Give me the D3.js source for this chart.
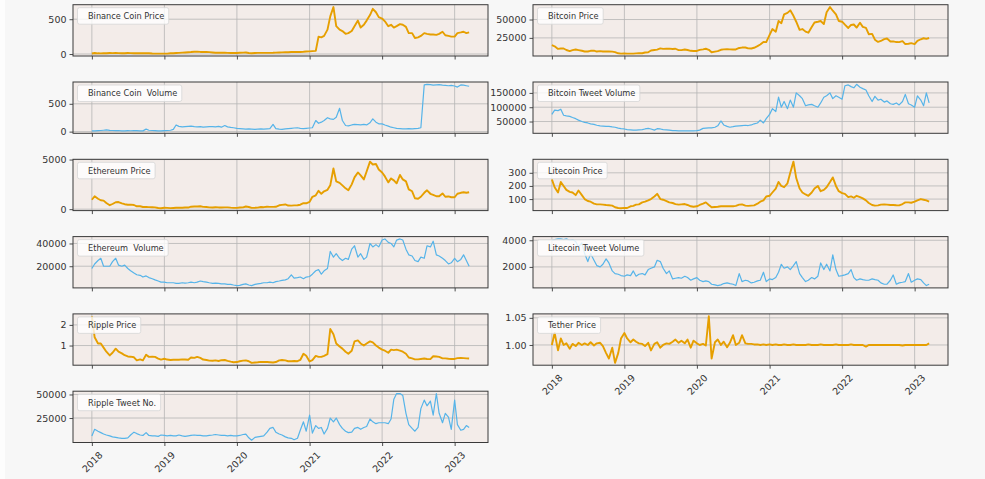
<!DOCTYPE html>
<html>
<head>
<meta charset="utf-8">
<script src="https://cdn.jsdelivr.net/npm/d3@7"></script>
<style>
  body { margin: 0; background: #f7f7f7; }
  svg { display: block; font-family: "DejaVu Sans", sans-serif; }
</style>
</head>
<body>
<svg id="chart" width="985" height="479"></svg>
<script>
// half-monthly samples (1st and 15th), Jan 2018 .. Mar 2023
const dates = d3.utcMonth.range(new Date(Date.UTC(2018, 0, 1)), new Date(Date.UTC(2023, 3, 1)))
  .flatMap(m => [m, d3.utcDay.offset(m, 14)]);
const yearTicks = [2018, 2019, 2020, 2021, 2022, 2023];

const bnbPrice = [
  8, 15, 10, 9, 12, 11, 14, 13, 14, 13, 12, 11, 14, 13, 11, 10, 10, 10, 10, 10, 7, 6, 5, 5,
  6, 6, 10, 12, 15, 17, 20, 22, 25, 28, 33, 35, 30, 28, 28, 27, 22, 18, 18, 20, 19, 17, 14, 14,
  15, 18, 20, 22, 14, 12, 15, 17, 17, 17, 17, 17, 18, 20, 22, 23, 27, 25, 29, 30, 30, 29, 32, 36,
  38, 42, 45, 250, 240, 260, 350, 540, 675, 400, 350, 330, 290, 300, 330, 400, 480, 380, 420, 480, 560, 650, 600, 530,
  510, 470, 400, 420, 380, 400, 430, 420, 390, 300, 300, 230, 240, 260, 300, 290, 280, 280, 275, 290, 320, 270, 260, 250,
  250, 300, 310, 320, 300, 310
];
const bnbVolume = [
  12, 15, 18, 20, 25, 30, 22, 20, 18, 20, 15, 15, 18, 16, 20, 18, 15, 14, 45, 25, 20, 18, 15, 14,
  18, 20, 25, 40, 120, 95, 85, 90, 95, 100, 90, 85, 90, 80, 85, 90, 90, 85, 95, 80, 110, 85, 75, 70,
  60, 55, 50, 45, 50, 45, 40, 45, 50, 45, 50, 55, 130, 55, 45, 40, 50, 55, 60, 65, 70, 60, 55, 60,
  65, 70, 200, 150, 170, 200, 250, 230, 220, 260, 420, 200, 110, 105, 120, 130, 125, 120, 130, 120, 160, 230, 170, 140,
  140, 120, 100, 80, 70, 60, 55, 50, 50, 55, 50, 55, 60, 70, 840, 850, 845, 835, 840, 845, 835, 830, 825, 830,
  820, 800, 840, 835, 825, 815
];
const ethPrice = [
  950, 1300, 1050, 900, 860, 620, 400, 520, 700, 720, 590, 500, 450, 460, 420, 290, 290, 220, 230, 210, 200, 180, 115, 90,
  140, 125, 107, 122, 135, 135, 140, 165, 160, 250, 265, 265, 290, 230, 215, 185, 170, 195, 175, 175, 180, 180, 150, 130,
  130, 165, 180, 265, 220, 125, 135, 155, 215, 200, 245, 230, 230, 240, 390, 430, 475, 365, 360, 380, 395, 450, 600, 590,
  730, 1250, 1400, 1850, 1550, 1800, 1950, 2400, 4100, 2800, 2650, 2400, 2100, 1900, 2500, 3200, 3700, 3400, 3000, 3800, 4790, 4500, 4550, 4000,
  3700, 3300, 2700, 3100, 2900, 2600, 3450, 3000, 2800, 2000, 1800, 1100, 1050, 1250, 1650, 1900, 1550, 1450, 1300, 1300, 1580, 1250, 1280, 1200,
  1200, 1550, 1650, 1700, 1650, 1700
];
const ethVolume = [
  18000, 22000, 25000, 27000, 20000, 20000, 20000, 24000, 27000, 21000, 20000, 21000, 18000, 16000, 14000, 12500, 12000, 10500, 11500, 10000, 9000, 8000, 7000, 6000,
  6000, 5500, 5500, 5500, 5000, 5000, 5500, 5200, 5500, 6000, 5500, 6000, 7000, 6500, 6000, 5500, 5000, 5200, 5000, 4500, 4500, 4000, 4000, 3500,
  3000, 3200, 4000, 4500, 3500, 3000, 4000, 4500, 5000, 5500, 5500, 6000, 5500, 6500, 7000, 7500, 8000, 9000, 12500, 9500, 10000, 10500, 9000, 10500,
  11000, 13000, 16000, 17000, 13000, 16000, 18000, 33000, 28000, 31000, 27000, 25000, 27000, 26000, 35000, 38000, 28000, 31000, 26000, 28000, 40000, 37000, 39000, 37000,
  43000, 44000, 41000, 40000, 37000, 43000, 44000, 43000, 35000, 30000, 29000, 25000, 24000, 28000, 27000, 38000, 37000, 42000, 30000, 29000, 27000, 25000, 22000, 23000,
  27000, 24000, 26000, 30000, 25000, 20000
];
const xrpPrice = [
  2.42, 1.4, 1.1, 1.1, 0.9, 0.7, 0.52, 0.65, 0.85, 0.7, 0.62, 0.53, 0.47, 0.46, 0.43, 0.28, 0.33, 0.28, 0.55, 0.45, 0.46, 0.45, 0.37, 0.32,
  0.36, 0.32, 0.3, 0.31, 0.31, 0.31, 0.33, 0.32, 0.31, 0.42, 0.4, 0.45, 0.4, 0.32, 0.3, 0.27, 0.26, 0.28, 0.25, 0.29, 0.3, 0.26, 0.22, 0.19,
  0.2, 0.24, 0.27, 0.28, 0.24, 0.16, 0.18, 0.19, 0.21, 0.2, 0.2, 0.19, 0.18, 0.2, 0.28, 0.3, 0.28, 0.24, 0.24, 0.25, 0.24, 0.3, 0.6, 0.5,
  0.23, 0.29, 0.5, 0.45, 0.45, 0.5, 0.58, 1.8, 1.55, 1.1, 0.95, 0.85, 0.7, 0.6, 0.75, 1.2, 1.25, 1.1, 1.0, 1.1, 1.2, 1.15, 1.0, 0.9,
  0.8, 0.75, 0.65, 0.8, 0.78, 0.8, 0.75, 0.7, 0.6, 0.42, 0.38, 0.33, 0.33, 0.35, 0.37, 0.35, 0.34, 0.48, 0.47, 0.45, 0.38, 0.38, 0.36, 0.35,
  0.35, 0.39, 0.4, 0.39, 0.38, 0.37
];
const xrpTweets = [
  6000, 13000, 11000, 9500, 8000, 7000, 6000, 5000, 4500, 4000, 3500, 3500, 4000, 7000, 10000, 8500, 7000, 6500, 9500, 6500, 6000, 6000, 5500, 7000,
  6500, 6000, 6500, 6000, 6000, 7000, 6000, 5500, 6000, 6500, 7000, 6500, 6500, 6000, 6000, 6500, 7000, 7500, 7000, 6500, 6500, 6000, 6500, 6000,
  6000, 6500, 7500, 8000, 4000, 1500, 4500, 5000, 5500, 6000, 10000, 14000, 15000, 10000, 8000, 7000, 5000, 4000, 3500, 2000, 3500, 12000, 21000, 11000,
  28000, 9000, 17000, 14000, 15000, 8000, 14000, 25000, 21000, 25000, 18000, 14000, 11000, 9500, 10000, 14000, 15000, 13000, 15000, 16000, 24000, 21000, 19000, 20000,
  20000, 20000, 19000, 24000, 45000, 51000, 51000, 49000, 30000, 18000, 14000, 11000, 15000, 35000, 44000, 38000, 43000, 28000, 51000, 30000, 20000, 30000, 26000, 13000,
  44000, 18000, 12000, 13000, 17000, 15000
];
const btcPrice = [
  15000, 13500, 10000, 10500, 10500, 8500, 7000, 8300, 9200, 8400, 7500, 6500, 6400, 7400, 7600, 6400, 7000, 6500, 6600, 6500, 6300, 5600, 4000, 3500,
  3800, 3600, 3500, 3600, 3900, 4000, 4100, 5100, 5400, 7800, 8500, 9000, 10700, 10000, 10200, 10300, 9800, 10200, 8300, 8300, 9200, 8500, 7400, 7100,
  7200, 8700, 9400, 10200, 8800, 5400, 6300, 6900, 8800, 9300, 9500, 9400, 9200, 9200, 11300, 11800, 11900, 10700, 10600, 11500, 13700, 16000, 19400, 19200,
  29000, 37000, 33500, 48000, 45000, 57000, 59000, 62500, 55000, 47000, 36000, 37000, 33500, 32000, 39800, 46000, 47000, 48000, 43800, 60000, 67000, 62000, 57000, 48000,
  47000, 43000, 38500, 42600, 43200, 39000, 45500, 40000, 38500, 30000, 30500, 22500, 19500, 20800, 23300, 24100, 20000, 20200, 19300, 19200, 20500, 16600, 17000, 17800,
  16600, 20800, 23100, 24500, 23600, 24800
];
const btcTweets = [
  75000, 90000, 88000, 93000, 72000, 70000, 68000, 64000, 60000, 55000, 50000, 47000, 45000, 42000, 40000, 37000, 35000, 34000, 33000, 33000, 31000, 30000, 27000, 25000,
  24000, 22000, 21000, 20000, 20000, 21000, 22000, 24000, 26000, 24000, 20000, 25000, 24000, 22000, 21000, 20000, 18000, 18000, 17500, 17000, 17000, 17000, 17500, 17000,
  18000, 20000, 26000, 27000, 28000, 28000, 30000, 35000, 52000, 38000, 33000, 30000, 32000, 34000, 35000, 36000, 37000, 36000, 38000, 42000, 45000, 55000, 45000, 60000,
  75000, 95000, 85000, 135000, 100000, 120000, 95000, 125000, 100000, 150000, 140000, 130000, 105000, 108000, 110000, 105000, 100000, 115000, 135000, 140000, 150000, 130000, 140000, 135000,
  128000, 175000, 178000, 172000, 168000, 180000, 170000, 165000, 160000, 140000, 120000, 138000, 125000, 128000, 118000, 122000, 112000, 110000, 115000, 108000, 120000, 145000, 112000, 108000,
  100000, 140000, 125000, 105000, 150000, 115000
];
const ltcPrice = [
  250, 190, 150, 230, 200, 170, 155, 150, 130, 165, 130, 100, 85, 80, 65, 60, 60, 58, 55, 53, 50, 38, 32, 30,
  33, 32, 45, 48, 58, 60, 75, 80, 90, 100, 120, 140, 100, 95, 85, 75, 70, 62, 58, 60, 62, 55, 45, 42,
  45, 55, 65, 75, 55, 38, 40, 42, 45, 45, 46, 45, 45, 48, 58, 60, 50, 48, 50, 52, 65, 80, 90, 120,
  125, 150, 180, 230, 200, 190, 220, 300, 385, 260, 180, 150, 135, 125, 150, 180, 200, 160, 170, 190, 230, 265, 200, 160,
  145, 140, 115, 120, 110, 125, 115, 105, 90, 70, 55, 50, 52, 58, 60, 58, 55, 55, 53, 52, 62, 75, 75, 72,
  80, 90, 100, 95, 90, 80
];
const ltcTweets = [
  4000, 4050, 4100, 4100, 4050, 4100, 4000, 4050, 3900, 3500, 3800, 3000, 2400, 3000, 2500, 2100, 2000, 2200, 2600, 2300, 1700, 1500, 1450, 1350,
  1300, 1400, 1350, 1700, 1300, 1450, 1500, 1400, 1800, 1900, 2000, 2500, 2400, 1900, 1500, 1700, 1100, 1150, 1200, 1150, 1300, 1200, 1000, 1100,
  1200, 1000, 900, 950, 900, 700, 650, 600, 650, 750, 800, 750, 700, 600, 1500, 900, 1000, 950, 800, 850, 950, 1000, 1600, 900,
  1100, 1050, 1200, 1600, 2200, 1900, 2000, 1800, 2100, 2400, 1500, 1200, 900, 1000, 1200, 1100, 1300, 2300, 1800, 2200, 1700, 2900, 1800, 1300,
  1350, 1400, 1500, 1800, 1200, 1000, 1100, 1050, 1000, 1000, 1100, 1050, 1000, 800, 700, 700, 1000, 1400, 700, 800, 850, 900, 1500, 850,
  1000, 1100, 1050, 800, 600, 700
];
const tetherPrice = [
  1.0, 1.022, 0.99, 1.012, 1.0, 1.003, 0.993, 1.002, 0.998, 1.004, 1.0, 1.003, 1.0, 1.005, 0.999, 1.003, 1.004, 0.998, 0.985, 0.975, 0.995, 0.967, 0.985, 1.012,
  1.022, 1.012, 1.005, 1.01, 1.006, 1.003, 1.002, 0.998, 1.004, 0.99, 1.002, 1.005, 0.995, 1.0, 1.003, 1.002, 1.006, 1.01, 1.004, 1.008, 1.003, 1.01, 0.995, 1.008,
  1.003, 1.0, 1.002, 0.999, 1.053, 0.975, 1.005, 1.01, 1.0, 1.006, 0.996, 1.004, 1.018, 1.0, 1.004, 1.018, 1.003, 1.002, 1.002, 1.001, 1.001, 1.0, 1.001, 1.0,
  1.001, 1.0, 1.001, 1.0, 1.0, 1.001, 1.0, 1.0, 1.001, 1.0, 1.0, 1.0, 1.0, 1.001, 1.0, 1.0, 1.0, 1.001, 1.0, 1.0, 1.0, 1.0, 1.001, 1.0,
  1.0, 1.0, 1.0, 1.001, 1.0, 1.0, 1.0, 1.0, 0.997, 1.0, 1.0, 1.0, 1.0, 1.0, 1.0, 1.0, 1.0, 1.0, 1.0, 1.0, 0.999, 1.0, 1.0, 1.0,
  1.0, 1.0, 1.0, 1.0, 1.0, 1.003
];

const priceColor = '#E69F00';
const volumeColor = '#56B4E9';

// col, row, legend label, series, y ticks
const panels = [
  { col: 0, row: 0, label: 'Binance Coin Price', values: bnbPrice, kind: 'price', ticks: [0, 500] },
  { col: 0, row: 1, label: 'Binance Coin  Volume', values: bnbVolume, kind: 'volume', ticks: [0, 500] },
  { col: 0, row: 2, label: 'Ethereum Price', values: ethPrice, kind: 'price', ticks: [0, 5000] },
  { col: 0, row: 3, label: 'Ethereum  Volume', values: ethVolume, kind: 'volume', ticks: [20000, 40000] },
  { col: 0, row: 4, label: 'Ripple Price', values: xrpPrice, kind: 'price', ticks: [1, 2] },
  { col: 0, row: 5, label: 'Ripple Tweet No.', values: xrpTweets, kind: 'volume', ticks: [25000, 50000] },
  { col: 1, row: 0, label: 'Bitcoin Price', values: btcPrice, kind: 'price', ticks: [25000, 50000] },
  { col: 1, row: 1, label: 'Bitcoin Tweet Volume', values: btcTweets, kind: 'volume', ticks: [50000, 100000, 150000] },
  { col: 1, row: 2, label: 'Litecoin Price', values: ltcPrice, kind: 'price', ticks: [100, 200, 300] },
  { col: 1, row: 3, label: 'Litecoin Tweet Volume', values: ltcTweets, kind: 'volume', ticks: [2000, 4000] },
  { col: 1, row: 4, label: 'Tether Price', values: tetherPrice, kind: 'price', ticks: [1.0, 1.05], fmt: d3.format('.2f') }
];

const colX = [[73, 488], [533, 948]];
const top0 = 4.7, pitch = 77.3, panelH = 51.3;
const lastRow = [5, 4];

const svg = d3.select('#chart');
svg.append('rect').attr('width', 985).attr('height', 479).attr('fill', '#f7f7f7');
svg.append('rect').attr('width', 5).attr('height', 479).attr('fill', '#fdfdfd');

// matplotlib-style 5% margins
function pad(ext) {
  const s = ext[1] - ext[0];
  return [ext[0] - s * 0.05, ext[1] + s * 0.05];
}
const tExt = pad([+dates[0], +dates[dates.length - 1]]);

panels.forEach(p => {
  const [x0, x1] = colX[p.col];
  const y0 = top0 + pitch * p.row;
  const y1 = y0 + panelH;

  const x = d3.scaleUtc().domain(tExt.map(t => new Date(t))).range([x0, x1]);
  const y = d3.scaleLinear().domain(pad(d3.extent(p.values))).range([y1, y0]);

  const g = svg.append('g');
  g.append('rect').attr('x', x0).attr('y', y0).attr('width', x1 - x0).attr('height', panelH)
    .attr('fill', '#f3ece9');

  const years = yearTicks.map(yr => new Date(Date.UTC(yr, 0, 1)));

  // grid
  g.selectAll('.gx').data(years).enter().append('line')
    .attr('x1', d => x(d)).attr('x2', d => x(d)).attr('y1', y0).attr('y2', y1)
    .attr('stroke', '#b5b5b5').attr('stroke-width', 0.8);
  g.selectAll('.gy').data(p.ticks).enter().append('line')
    .attr('x1', x0).attr('x2', x1).attr('y1', d => y(d)).attr('y2', d => y(d))
    .attr('stroke', '#b5b5b5').attr('stroke-width', 0.8);

  // series line
  const line = d3.line().x((d, i) => x(dates[i])).y(d => y(d));
  g.append('path').datum(p.values)
    .attr('fill', 'none')
    .attr('stroke', p.kind === 'price' ? priceColor : volumeColor)
    .attr('stroke-width', p.kind === 'price' ? 1.9 : 1.2)
    .attr('stroke-linejoin', 'round')
    .attr('d', line);

  // frame
  g.append('rect').attr('x', x0).attr('y', y0).attr('width', x1 - x0).attr('height', panelH)
    .attr('fill', 'none').attr('stroke', '#3a3a3a').attr('stroke-width', 1);

  // y axis
  const ya = g.append('g').attr('transform', `translate(${x0},0)`)
    .call(d3.axisLeft(y).tickValues(p.ticks).tickSize(3.5).tickPadding(3)
      .tickFormat(p.fmt || (d => String(d))));
  // x axis
  const isBottom = p.row === lastRow[p.col];
  const xa = g.append('g').attr('transform', `translate(0,${y1})`)
    .call(d3.axisBottom(x).tickValues(years).tickSize(3.5)
      .tickFormat(d => isBottom ? d3.utcFormat('%Y')(d) : ''));
  [ya, xa].forEach(a => {
    a.select('.domain').remove();
    a.selectAll('.tick line').attr('stroke', '#3a3a3a').attr('stroke-width', 0.9);
    a.selectAll('.tick text').attr('fill', '#333').style('font-size', '9.5px')
      .style('font-family', '"DejaVu Sans", sans-serif');
  });
  if (isBottom) {
    xa.selectAll('.tick text')
      .attr('y', 0).attr('dy', '0.35em').attr('text-anchor', 'middle')
      .attr('transform', 'translate(0,19.5) rotate(-45)');
  }

  // legend
  const lg = g.append('g');
  const box = lg.append('rect').attr('x', x0 + 4.5).attr('y', y0 + 3).attr('height', 16.5)
    .attr('rx', 2).attr('fill', '#ffffff').attr('fill-opacity', 0.8)
    .attr('stroke', '#d6d6d6').attr('stroke-width', 0.8);
  const txt = lg.append('text').attr('x', x0 + 15).attr('y', y0 + 14.3)
    .attr('fill', '#333').style('font-size', '8.2px').style('white-space', 'pre')
    .text(p.label);
  box.attr('width', txt.node().getComputedTextLength() + 15);
});
</script>
</body>
</html>
